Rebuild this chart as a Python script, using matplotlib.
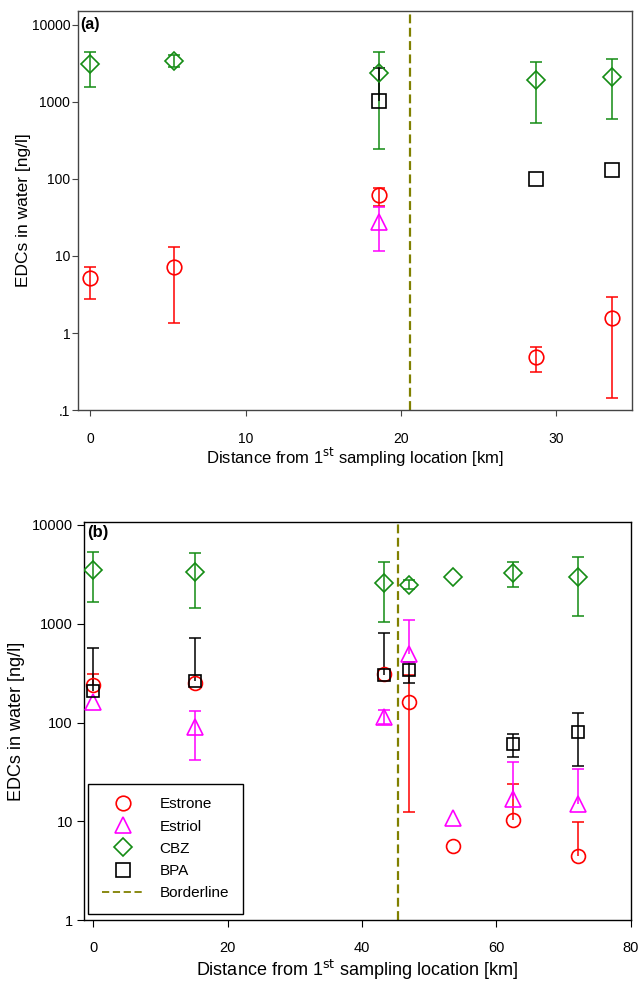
import numpy as np
import matplotlib
matplotlib.use('Agg')
import matplotlib.pyplot as plt
from matplotlib.lines import Line2D

plt.rcParams['font.family'] = ['Liberation Sans', 'DejaVu Sans']

nan = np.nan

# ---- panel (a) ----
dist_a = [0, 5.4, 18.6, 28.7, 33.6]
estrone_a = [5.1, 7.3, 62, 0.49, 1.58]
estrone_lo_a = [2.8, 1.36, 44, 0.31, 0.145]
estrone_hi_a = [7.3, 12.9, 77, 0.65, 2.95]
estriol_a = [nan, nan, 28, nan, nan]
estriol_lo_a = [nan, nan, 11.6, nan, nan]
estriol_hi_a = [nan, nan, 43, nan, nan]
cbz_a = [3100, 3440, 2400, 1930, 2090]
cbz_lo_a = [1550, 2880, 248, 540, 600]
cbz_hi_a = [4500, 4070, 4500, 3340, 3580]
bpa_a = [nan, nan, 1030, 99, 131]
bpa_lo_a = [nan, nan, nan, nan, nan]
bpa_hi_a = [nan, nan, 2790, nan, nan]
border_a = 20.6

# ---- panel (b) ----
dist_b = [0, 15.2, 43.3, 47.0, 53.5, 62.5, 72.2]
estrone_b = [240, 250, 310, 163, 5.6, 10.3, 4.5]
estrone_lo_b = [nan, nan, nan, 12.5, nan, nan, nan]
estrone_hi_b = [307, nan, nan, 300, nan, 23.8, 9.9]
estriol_b = [163, 91, 115, 494, 10.7, 16.7, 15]
estriol_lo_b = [nan, 42, 96, nan, nan, nan, nan]
estriol_hi_b = [nan, 132, 134, 1100, nan, 39.5, 33.6]
cbz_b = [3480, 3320, 2600, 2490, 2950, 3290, 2950]
cbz_lo_b = [1650, 1456, 1050, 2240, nan, 2340, 1200]
cbz_hi_b = [5330, 5170, 4190, 2750, nan, 4190, 4710]
bpa_b = [208, 263, 303, 340, nan, 61, 80]
bpa_lo_b = [nan, nan, nan, 253, nan, 45, 36.6]
bpa_hi_b = [573, 718, 800, 413, nan, 76, 124]
border_b = 45.4

names = ['Estrone', 'Estriol', 'CBZ', 'BPA']
colors = ['#ff0000', '#ff00ff', '#148c14', '#000000']
markers = ['o', '^', 'D', 's']
msizes = [10.5, 11.5, 9.5, 9.8]
border_color = '#808000'


def draw_series(ax, x, y, lo, hi, color, marker, ms):
    x = np.asarray(x, float)
    y = np.asarray(y, float)
    lo = np.asarray(lo, float)
    hi = np.asarray(hi, float)
    ok = ~np.isnan(y)
    # error bars drawn by hand so one sided bars get only one cap
    bot = np.where(np.isnan(lo), y, lo)
    top = np.where(np.isnan(hi), y, hi)
    has = ok & ((bot != y) | (top != y))
    ax.vlines(x[has], bot[has], top[has], color=color, lw=1.1, zorder=2)
    m = ok & ~np.isnan(lo)
    ax.plot(x[m], lo[m], ls='none', marker='_', ms=8, mew=1.1, color=color, zorder=2)
    m = ok & ~np.isnan(hi)
    ax.plot(x[m], hi[m], ls='none', marker='_', ms=8, mew=1.1, color=color, zorder=2)
    ax.plot(x[ok], y[ok], ls='none', marker=marker, ms=ms, mfc='none',
            mec=color, mew=1.2, zorder=3)


def setup_axes(ax, xlim, ylim, xticks, yticks, yticklabels, spine_color):
    ax.set_yscale('log')
    ax.set_xlim(*xlim)
    ax.set_ylim(*ylim)
    ax.set_xticks(xticks)
    ax.set_yticks(yticks)
    ax.set_yticklabels(yticklabels)
    ax.minorticks_off()
    for sp in ax.spines.values():
        sp.set_color(spine_color)
        sp.set_linewidth(1.0)


fig = plt.figure(figsize=(6.41, 9.84), dpi=100)

# panel (a)
ax1 = fig.add_axes([0.1217, 0.5833, 0.8643, 0.4055])
for ser, lo, hi, c, mk, ms in zip([estrone_a, estriol_a, cbz_a, bpa_a],
                                  [estrone_lo_a, estriol_lo_a, cbz_lo_a, bpa_lo_a],
                                  [estrone_hi_a, estriol_hi_a, cbz_hi_a, bpa_hi_a],
                                  colors, markers, msizes):
    draw_series(ax1, dist_a, ser, lo, hi, c, mk, ms)
ax1.axvline(border_a, color=border_color, lw=1.6, ls=(0, (4, 2)), zorder=1)
setup_axes(ax1, (-0.8, 34.9), (0.1, 10 ** 4.18), [0, 10, 20, 30],
           [0.1, 1, 10, 100, 1000, 10000], ['.1', '1', '10', '100', '1000', '10000'],
           '#444444')
ax1.tick_params(axis='y', length=4, pad=1.5, labelsize=10, color='#444444')
ax1.tick_params(axis='x', length=4, pad=12, labelsize=10, color='#444444')
ax1.set_xlabel('Distance from 1$^{\\rm st}$ sampling location [km]', fontsize=12, va='center')
ax1.xaxis.set_label_coords(0.5, -0.12)
ax1.set_ylabel('EDCs in water [ng/l]', fontsize=12.5, va='center')
ax1.yaxis.set_label_coords(-0.0975, 0.5)
ax1.text(0.004, 0.965, '(a)', transform=ax1.transAxes, fontsize=11.5,
         fontweight='bold', va='center', ha='left')

# panel (b)
ax2 = fig.add_axes([0.131, 0.065, 0.853, 0.4042])
for ser, lo, hi, c, mk, ms in zip([estrone_b, estriol_b, cbz_b, bpa_b],
                                  [estrone_lo_b, estriol_lo_b, cbz_lo_b, bpa_lo_b],
                                  [estrone_hi_b, estriol_hi_b, cbz_hi_b, bpa_hi_b],
                                  colors, markers, msizes):
    draw_series(ax2, dist_b, ser, lo, hi, c, mk, ms - 0.5)
ax2.axvline(border_b, color=border_color, lw=1.6, ls=(0, (4, 2)), zorder=1)
setup_axes(ax2, (-1.4, 80), (1, 10 ** 4.027), [0, 20, 40, 60, 80],
           [1, 10, 100, 1000, 10000], ['1', '10', '100', '1000', '10000'], 'black')
ax2.tick_params(axis='y', length=5, pad=3, labelsize=10.5)
ax2.tick_params(axis='x', length=5, pad=10, labelsize=10.5)
ax2.set_xlabel('Distance from 1$^{\\rm st}$ sampling location [km]', fontsize=13, va='center')
ax2.xaxis.set_label_coords(0.5, -0.126)
ax2.set_ylabel('EDCs in water [ng/l]', fontsize=13, va='center')
ax2.yaxis.set_label_coords(-0.1225, 0.5)
ax2.text(0.005, 0.975, '(b)', transform=ax2.transAxes, fontsize=12,
         fontweight='bold', va='center', ha='left')

handles = [Line2D([], [], ls='none', marker=mk, ms=ms, mfc='none', mec=c, mew=1.2)
           for c, mk, ms in zip(colors, markers, msizes)]
handles.append(Line2D([], [], color=border_color, lw=1.3, ls=(0, (4, 2))))
leg = ax2.legend(handles, names + ['Borderline'], loc='lower left',
                 bbox_to_anchor=(0.007, 0.015), borderaxespad=0, fontsize=11,
                 handlelength=2.8, handletextpad=1.0, labelspacing=0.54,
                 borderpad=0.9, fancybox=False, framealpha=1, edgecolor='black')
leg.get_frame().set_linewidth(1.0)

fig.savefig('out.png', dpi=100)
